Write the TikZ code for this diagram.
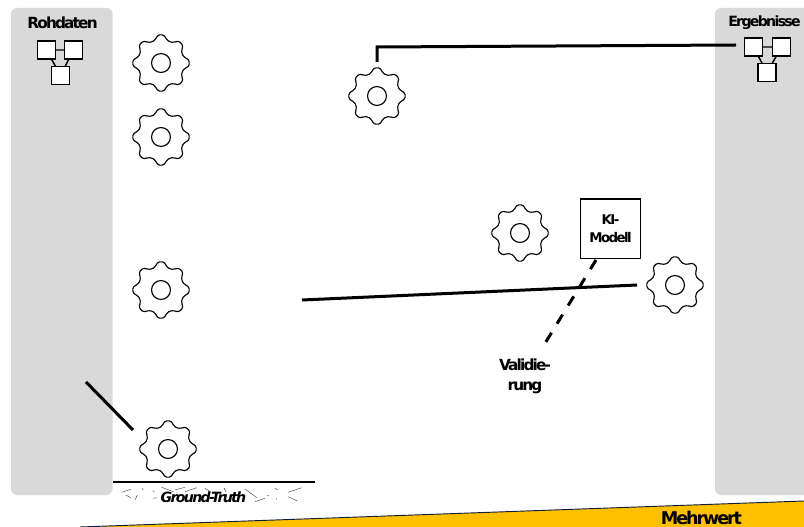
\documentclass[tikz,border=0pt]{standalone}
\usepackage{fontspec}
\newfontfamily\lab{DejaVu Sans Bold}[LetterSpace=-12]
\newfontfamily\labit{DejaVu Sans Bold Oblique}[LetterSpace=-12]
\definecolor{panel}{HTML}{D9D9D9}
\definecolor{gold}{HTML}{FFC000}
\definecolor{navy}{HTML}{0B1F3F}
\tikzset{
 panelbox/.style={fill=panel,rounded corners=4.5pt,draw=none},
 geartooth/.style={draw=black,line width=0.85pt,fill=white,line join=round,rounded corners=1.1pt},
 hole/.style={circle,draw=black,line width=0.85pt,minimum size=14.2pt,inner sep=0pt,fill=white},
 minibox/.style={draw=black,line width=1.25pt,fill=white,minimum size=13.4pt,inner sep=0pt},
 minilink/.style={draw=black,line width=1.1pt},
 heavy/.style={line width=2.25pt,black},
 lbl/.style={font=\lab\fontsize{11.5}{15}\selectfont,align=center,inner sep=0pt},
 hatch/.style={line width=0.35pt,black!70},
}
\newcommand{\gearbody}[2]{%
 \begin{scope}[shift={(#1)}]
 \draw[geartooth]
   (-6:21.2pt) -- (6:21.2pt) -- (13:18.3pt) -- (22.5:17pt) -- (32:18.3pt)
   -- (39:21.2pt) -- (51:21.2pt) -- (58:18.3pt) -- (67.5:17pt) -- (77:18.3pt)
   -- (84:21.2pt) -- (96:21.2pt) -- (103:18.3pt) -- (112.5:17pt) -- (122:18.3pt)
   -- (129:21.2pt) -- (141:21.2pt) -- (148:18.3pt) -- (157.5:17pt) -- (167:18.3pt)
   -- (174:21.2pt) -- (186:21.2pt) -- (193:18.3pt) -- (202.5:17pt) -- (212:18.3pt)
   -- (219:21.2pt) -- (231:21.2pt) -- (238:18.3pt) -- (247.5:17pt) -- (257:18.3pt)
   -- (264:21.2pt) -- (276:21.2pt) -- (283:18.3pt) -- (292.5:17pt) -- (302:18.3pt)
   -- (309:21.2pt) -- (321:21.2pt) -- (328:18.3pt) -- (337.5:17pt) -- (347:18.3pt) -- cycle;
 \node[hole] (#2) at (0,0) {};
 \end{scope}
}
\begin{document}
\begin{tikzpicture}[x=0.75pt,y=-0.75pt]
\useasboundingbox (0,0) rectangle (804,527);
\fill[white] (0,0) rectangle (804,527);
% panels
\fill[panelbox] (11,8) rectangle (112.5,495);
\begin{scope}
\clip (0,0) rectangle (804,527);
\fill[panelbox] (715,8) rectangle (830,495);
\end{scope}
% value band
\coordinate (bandL) at (80,527);
\coordinate (bandR) at (804,501);
\fill[gold] (bandL) -- (bandR) -- (804,527) -- cycle;
\draw[navy,line width=0.7pt] (bandL) -- (bandR);
% gears
\gearbody{161,63}{g1}
\gearbody{161,137}{g2}
\gearbody{161,290}{g3}
\gearbody{377,96}{g4}
\gearbody{520,233}{g5}
\gearbody{675,285}{g6}
\gearbody{168,449}{g7}
% left data icon
\coordinate (rap) at (46.5,50);
\coordinate (rbp) at (73.5,50);
\coordinate (rcp) at (60.5,75.5);
\draw[minilink] (rap) -- (rbp) -- (rcp) -- cycle;
\node[minibox] (ra) at (rap) {};
\node[minibox] (rb) at (rbp) {};
\node[minibox] (rc) at (rcp) {};
% right data icon
\coordinate (eap) at (753.5,47);
\coordinate (ebp) at (781.5,47);
\coordinate (ecp) at (767,72.5);
\draw[minilink] (eap) -- (ebp) -- (ecp) -- cycle;
\node[minibox] (ea) at (eap) {};
\node[minibox] (eb) at (ebp) {};
\node[minibox] (ec) at (ecp) {};
% model
\node[draw=black,line width=1.25pt,fill=white,minimum width=45pt,minimum height=44.5pt,inner sep=0pt,
      align=center,font=\lab\fontsize{10}{13.5}\selectfont] (ki) at (610.5,229) {KI-\\Modell};
% connectors
\coordinate (c1a) at (377,62);
\coordinate (c1b) at (377,47);
\coordinate (c1c) at (736,45);
\draw[heavy] (c1a) -- (c1b) -- (c1c);
\coordinate (c2a) at (302,300);
\coordinate (c2b) at (637,285);
\draw[heavy] (c2a) -- (c2b);
\coordinate (c3a) at (86,382);
\coordinate (c3b) at (133,430);
\draw[heavy] (c3a) -- (c3b);
\coordinate (c4a) at (596,260);
\coordinate (c4b) at (544,345);
\draw[heavy,dash pattern=on 8pt off 8pt] (c4a) -- (c4b);
% ground truth
\coordinate (gta) at (113,482);
\coordinate (gtb) at (315,482);
\draw[line width=1.5pt,black] (gta) -- (gtb);
\draw[hatch]
 (121.7,492.3)--(130.7,489.3) (126,495)--(131,498) (135,500)--(137.3,495) (142.3,488.3)--(143.3,490)
 (153.3,498.3)--(156.7,497.7) (152.7,490.7)--(154.3,491.7) (161.7,487.3)--(173.3,491.7)
 (175,490)--(185,487.3) (185,491.7)--(196.7,487.7) (205,488.3)--(210,491.7) (224,488)--(226,492)
 (245,489)--(256.7,497.7) (255,501.7)--(265,498.3) (267.3,495)--(268.7,496) (275,488.3)--(277.7,490)
 (276,498.3)--(276.7,499.3) (288.3,492.3)--(301.7,487.7) (288.3,496.7)--(297.3,501);
% labels
\node[lbl] (rohl) at (62.5,23) {Rohdaten};
\node[lbl,anchor=west,font=\lab\fontsize{10.6}{15}\selectfont] (ergl) at (728,23) {Ergebnisse};
\node[lbl] (vall) at (525,376) {Validie-\\rung};
\node[lbl,font=\labit\fontsize{10.6}{12}\selectfont] (gtl) at (203.5,497) {Ground-Truth};
\node[lbl,font=\lab\fontsize{13.2}{14}\selectfont] (mwl) at (701.5,518) {Mehrwert};
\end{tikzpicture}
\end{document}
